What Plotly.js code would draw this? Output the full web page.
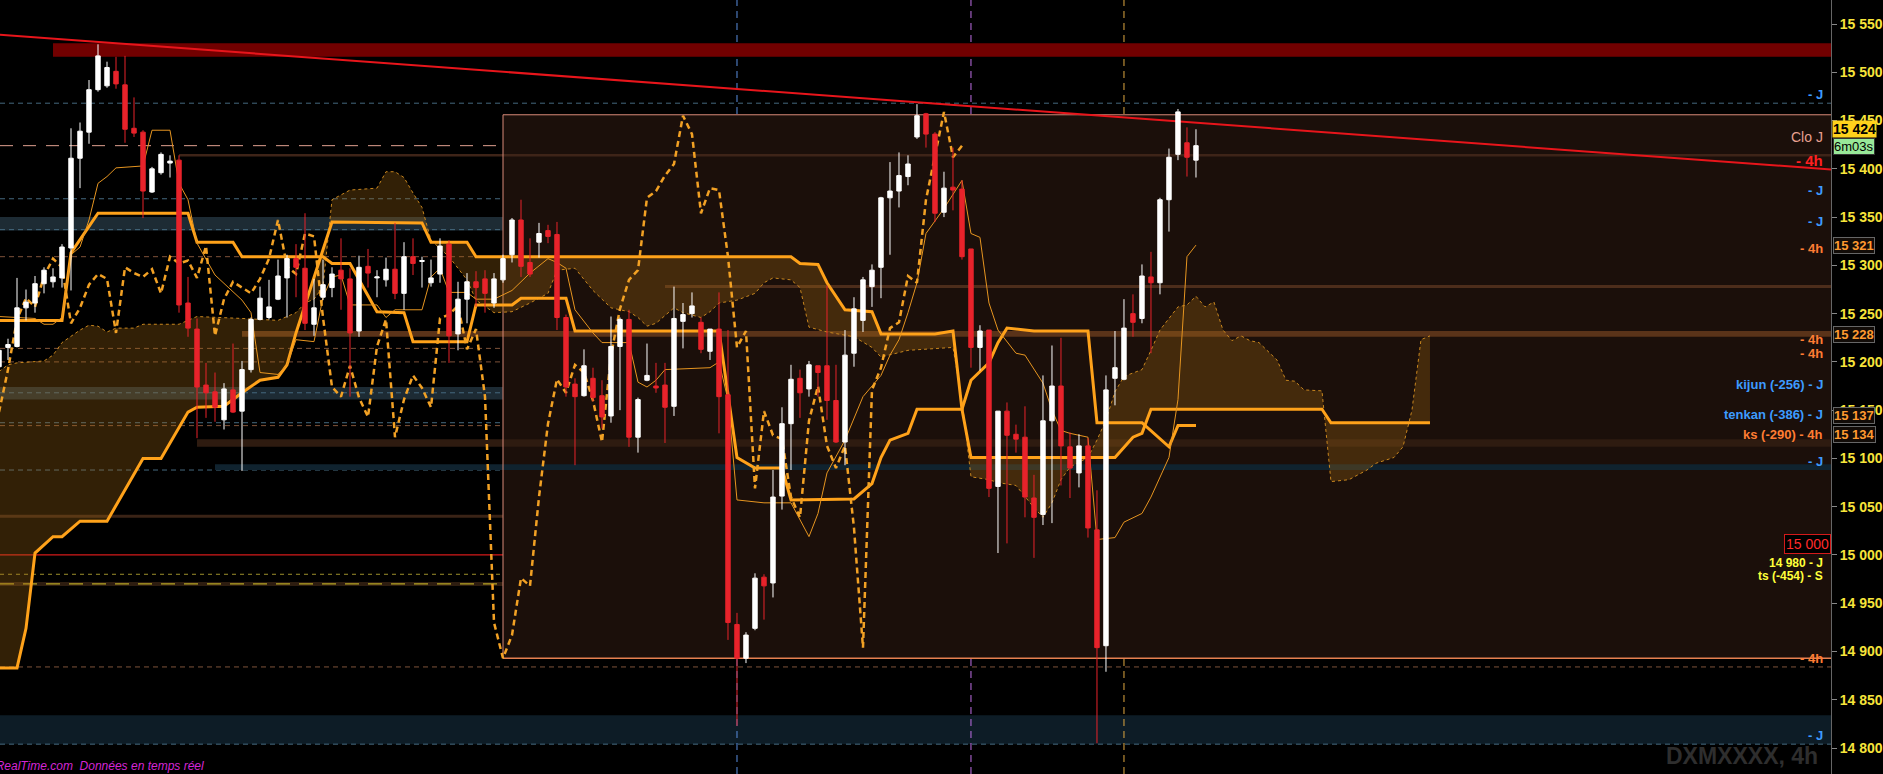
<!DOCTYPE html>
<html><head><meta charset="utf-8">
<script src="https://cdn.plot.ly/plotly-3.0.1.min.js"></script>
<style>html,body{margin:0;padding:0;background:#000;overflow:hidden}#chart{width:1883px;height:774px}</style>
</head><body><div id="chart"></div>
<script>
// ---------- Candles (4h bars, index 0..133) ----------
const openP  = [15195,15215,15216,15256,15261,15281,15283,15287,15318,15411,15438,15482,15486,15501,15487,15442,15438,15376,15396,15406,
15409,15261,15234,15176,15169,15140,15171,15149,15192,15244,15246,15265,15287,15307,15297,15239,15267,15277,15295,15286,
15232,15299,15287,15285,15296,15271,15309,15304,15282,15291,15322,15229,15265,15283,15286,15261,15285,15311,15347,15303,
15324,15336,15332,15246,15177,15165,15183,15165,15144,15216,15244,15122,15181,15175,15176,15154,15242,15250,15241,15211,
15234,15166,14928,14893,14924,14977,14971,15061,15136,15183,15172,15196,15196,15160,15117,15209,15243,15278,15298,15370,
15377,15392,15433,15457,15436,15355,15381,15379,15317,15215,15233,15071,15149,15125,15122,15059,15042,15139,15175,15112,
15085,15113,15026,14906,15183,15182,15250,15245,15288,15282,15368,15415,15427,15409];
const highP  = [15217,15224,15287,15275,15289,15298,15297,15322,15442,15448,15492,15529,15511,15516,15517,15474,15440,15402,15417,15414,
15414,15288,15245,15199,15189,15178,15219,15201,15246,15278,15285,15306,15311,15322,15354,15286,15306,15298,15328,15297,
15310,15317,15295,15308,15344,15324,15328,15309,15306,15328,15326,15283,15292,15294,15295,15292,15311,15349,15368,15328,
15344,15342,15345,15249,15183,15213,15194,15181,15247,15246,15254,15163,15219,15199,15199,15278,15261,15272,15246,15234,
15272,15233,14940,14920,14981,14980,15088,15153,15197,15192,15201,15196,15279,15197,15233,15267,15288,15301,15371,15407,
15417,15414,15467,15458,15438,15397,15422,15388,15317,15238,15233,15149,15158,15135,15154,15083,15186,15217,15225,15127,
15125,15121,15067,15186,15232,15265,15270,15301,15314,15370,15421,15462,15443,15441];
const lowP   = [15190,15202,15215,15243,15251,15271,15277,15277,15274,15380,15426,15480,15484,15483,15427,15433,15349,15375,15394,15391,
15251,15226,15121,15142,15138,15130,15147,15087,15189,15243,15244,15264,15246,15267,15233,15227,15264,15267,15254,15164,
15226,15277,15267,15278,15265,15254,15290,15277,15278,15282,15199,15212,15240,15257,15251,15256,15282,15303,15288,15288,
15308,15323,15233,15164,15093,15164,15159,15131,15137,15150,15112,15106,15180,15168,15116,15144,15214,15246,15209,15202,
15126,14912,14823,14888,14922,14933,14956,15047,15088,15142,15164,15164,15140,15116,15093,15195,15231,15257,15266,15311,
15360,15383,15431,15422,15345,15350,15357,15306,15194,15191,15060,15002,15012,15106,15039,14997,15031,15033,15072,15059,
15070,15018,14805,14879,15155,15181,15226,15240,15209,15270,15335,15409,15392,15391];
const closeP = [15212,15218,15256,15262,15281,15295,15288,15319,15411,15439,15482,15517,15505,15488,15441,15437,15377,15400,15415,15408,
15259,15235,15174,15168,15153,15172,15148,15192,15244,15266,15257,15289,15307,15298,15240,15256,15280,15291,15286,15230,
15298,15292,15288,15296,15271,15309,15302,15305,15287,15320,15227,15265,15283,15277,15271,15286,15307,15347,15299,15291,
15333,15330,15246,15174,15164,15196,15163,15143,15216,15244,15122,15161,15186,15173,15153,15245,15249,15258,15213,15234,
15164,14930,14893,14917,14976,14968,15060,15136,15182,15168,15197,15189,15160,15117,15207,15255,15285,15295,15370,15377,
15393,15405,15455,15436,15354,15380,15378,15309,15215,15232,15069,15149,15124,15120,15060,15039,15139,15175,15113,15090,
15113,15028,14904,15171,15194,15235,15241,15289,15282,15368,15412,15459,15412,15424];
const barIdx = openP.map((_, i) => i);

// ---------- Ichimoku lines (bar index, price) ----------
const tenkanX = [0,4,5,6,7,8,9,10,11,12,13,16,17,19,20,21,22,24,27,28,29,31,32,33,35,36,37,38,39,42,43,44,47,48,49,50,52,53,55,57,59,61,62,63,64,66,67,70,71,72,73,74,79,80,81,82,85,88,90,91,92,94,96,98,99,100,101,102,103,105,107,108,109,110,111,113,114,116,117,118,119,121,122,124,125,127,128,130,131,132,133];
const tenkanY = [15247,15245,15239,15239,15246,15311,15319,15347,15385,15392,15401,15403,15440,15440,15385,15368,15323,15290,15264,15251,15189,15187,15197,15223,15221,15267,15288,15290,15259,15259,15246,15254,15254,15288,15297,15272,15272,15265,15265,15274,15292,15307,15303,15297,15254,15230,15220,15220,15179,15174,15181,15192,15194,15200,15161,15057,15054,15054,15019,15043,15085,15119,15164,15186,15207,15223,15251,15282,15333,15359,15388,15333,15329,15261,15233,15209,15207,15178,15150,15129,15126,15122,15016,15018,15034,15043,15060,15101,15161,15309,15321];
const kijunX = [0,7,8,11,21,22,26,27,36,37,39,42,45,46,52,53,57,58,63,64,80,82,84,87,88,95,97,98,99,101,102,107,108,110,111,112,115,121,122,127,130,131,133];
const kijunY = [15243,15243,15313,15354,15354,15324,15324,15309,15309,15302,15302,15252,15251,15221,15221,15259,15259,15266,15266,15232,15232,15101,15090,15090,15057,15058,15074,15101,15119,15126,15151,15151,15181,15199,15220,15235,15232,15232,15137,15137,15112,15134,15134];
const ssbX = [0,2,3,4,6,7,9,12,16,18,21,22,25,27,29,31,32,33,37,47,48,52,53,88,89,91,92,94,97,98,104,106,107,108,124,126,127,128,147,148,159];
const ssbY = [14883,14883,14924,15002,15019,15019,15035,15035,15100,15100,15148,15153,15154,15168,15181,15184,15197,15230,15345,15344,15324,15324,15309,15309,15302,15301,15282,15254,15252,15229,15229,15232,15151,15101,15101,15122,15126,15151,15151,15137,15137];
const ssaX = [0,1,2,5,6,7,9,10,11,12,13,15,16,20,21,22,27,31,33,34,35,36,37,39,42,43,44,45,46,47,48,50,52,53,55,57,59,61,62,64,66,68,70,71,72,73,75,76,78,79,80,82,84,85,86,88,89,90,92,95,97,98,101,106,107,108,110,111,113,114,115,116,117,118,119,121,122,123,124,125,127,128,129,130,131,132,133,134,135,136,137,138,139,140,142,143,144,145,147,148,150,152,153,155,156,157,158,159];
const ssaY = [15190,15197,15199,15201,15207,15220,15233,15238,15237,15231,15235,15235,15239,15239,15243,15247,15245,15243,15251,15261,15265,15278,15368,15378,15380,15397,15397,15391,15375,15360,15326,15309,15285,15264,15251,15252,15261,15271,15295,15297,15274,15256,15252,15246,15237,15240,15256,15251,15246,15252,15261,15264,15271,15282,15287,15285,15277,15236,15231,15226,15215,15205,15212,15215,15160,15081,15078,15075,15072,15060,15049,15039,15054,15078,15091,15101,15119,15140,15169,15185,15192,15212,15233,15245,15257,15259,15268,15257,15262,15233,15222,15227,15222,15220,15202,15181,15180,15171,15170,15076,15078,15088,15095,15101,15112,15150,15223,15227];
const CHIKOU_SHIFT = 26;
const chikouX = barIdx.slice(0, barIdx.length - CHIKOU_SHIFT);
const chikouY = closeP.slice(CHIKOU_SHIFT);

// ---------- Drawing objects ----------
const trendX = [0, 204];
const trendY = [15539, 15399];
const resistZone = [15516, 15530];
const resistZoneStart = 6;
const boxTop = 15456, boxBottom = 14893, boxStart = 56;
const levelsJ  = [15468, 15369, 15337, 15168, 15137, 15088, 14804];
const levels4h = [15309, 15214, 15200, 15134, 14884];
const closeJ = 15424;
const roundLevel = 15000;
const level14980 = 14980;
const levelTs = 14970;
const slateBands = [[15336, 15350], [15161, 15174], [14804, 14834]];
const slateBandPartial = [15088, 15094], slateBandPartialStart = 24;
const brownBands = [[15226, 15232], [15112, 15120]];
const brownBandStarts = [27, 22];
const brownLines = [15414, 15278, 15040, 14970];
const brownLineStarts = [20, 74, null, null];
const vLineBars = [82, 108, 125];

const tickVals = [14800,14850,14900,14950,15000,15050,15100,15150,15200,15250,15300,15350,15400,15450,15500,15550];
const tickText = ['14 800','14 850','14 900','14 950','15 000','15 050','15 100','15 150','15 200','15 250','15 300','15 350','15 400','15 450','15 500','15 550'];

const labelPrices = [15468, 15424, 15399, 15369, 15337, 15309, 15214, 15200, 15168, 15137, 15134, 15088, 14980, 14970, 14884, 14804];
const labelTexts  = ['- J','Clo J','- 4h','- J','- J','- 4h','- 4h','- 4h','kijun (-256) - J','tenkan (-386) - J','ks (-290) - 4h','- J','14 980 - J','ts (-454) - S','- 4h','- J'];
const labelKinds  = ['J','clo','trend','J','J','4h','4h','4h','J','J','4h','J','yel','yel','4h','J'];

const tagPrices = [15321, 15228, 15137, 15134];
const tagTexts  = ['15 321','15 228','15 137','15 134'];
const lastPrice = 15424, lastPriceText = '15 424', timerText = '6m03s';

// ---------- Build ----------
const X_RANGE = [0.11, 203.56];
const Y_RANGE = [14773.1, 15574.9];
const XR = X_RANGE[1] + 10;
const FONT = 'Liberation Sans, Arial, sans-serif';

const shapes = [];
function rect(x0, x1, y0, y1, color, xref) {
  shapes.push({type:'rect', xref: xref || 'x', yref:'y', x0, x1, y0, y1, fillcolor: color, line:{width:0}, layer:'below'});
}
function hline(y, color, width, dash, x0) {
  const full = (x0 === null || x0 === undefined);
  shapes.push({type:'line', xref: full ? 'paper' : 'x', yref:'y', x0: full ? 0 : x0, x1: full ? 1 : XR, y0: y, y1: y,
    line:{color, width, dash: dash || 'solid'}, layer:'below'});
}
rect(boxStart, XR, boxBottom, boxTop, '#1b0f0a');
rect(resistZoneStart, XR, resistZone[0], resistZone[1], '#720000');
slateBands.forEach((b, k) => rect(0, 1, b[0], b[1], k === 2 ? '#0d1c26' : '#1d2b34', 'paper'));
rect(slateBandPartialStart, XR, slateBandPartial[0], slateBandPartial[1], '#10232f');
brownBands.forEach((b, k) => rect(brownBandStarts[k], XR, b[0], b[1], k === 0 ? '#5a3319' : '#2e1b10'));
const brownW = [2.5, 3, 3, 4], brownC = ['#3e2418', '#4d2d1b', '#3a2316', '#2e1d10'];
brownLines.forEach((y, k) => hline(y, brownC[k], brownW[k], 'solid', brownLineStarts[k]));
levelsJ.forEach(y => hline(y, '#45697f', 1, '5px,4px'));
levels4h.forEach(y => hline(y, '#7e5239', 1, '5px,4px'));
hline(closeJ, '#e0a090', 1, '13px,10px');
hline(roundLevel, '#d41a1a', 1.2, 'solid');
hline(level14980, '#9c8f2c', 1, '4px,4px');
hline(levelTs, '#b8a624', 1.3, '14px,9px');
hline(boxTop, '#d98a78', 1, 'solid', boxStart);
hline(boxBottom, '#e58050', 1.5, 'solid', boxStart);
shapes.push({type:'line', xref:'x', yref:'y', x0: boxStart, x1: boxStart, y0: boxBottom, y1: boxTop, line:{color:'#d98a78', width:1}, layer:'below'});
const vCols = ['#5a8fe0', '#c070e8', '#e0a840'];
vLineBars.forEach((x, k) => shapes.push({type:'line', xref:'x', yref:'paper', x0:x, x1:x, y0:0, y1:1, line:{color:vCols[k], width:1, dash:'7px,5px'}, layer:'below'}));

const traces = [
  {type:'scatter', mode:'lines', x: ssbX, y: ssbY, xaxis:'x', yaxis:'y', line:{width:0, color:'rgba(0,0,0,0)'}, hoverinfo:'skip', showlegend:false},
  {type:'scatter', mode:'lines', x: ssaX, y: ssaY, xaxis:'x', yaxis:'y', fill:'tonexty', fillcolor:'rgba(165,105,20,0.30)',
   line:{color:'#c8861e', width:1, dash:'3px,3px'}, hoverinfo:'skip', showlegend:false},
  {type:'scatter', mode:'lines', x: ssbX, y: ssbY, xaxis:'x', yaxis:'y', line:{color:'#ffa21a', width:3}, hoverinfo:'skip', showlegend:false},
  {type:'scatter', mode:'lines', x: kijunX, y: kijunY, xaxis:'x', yaxis:'y', line:{color:'#ffa21a', width:3}, hoverinfo:'skip', showlegend:false},
  {type:'scatter', mode:'lines', x: tenkanX, y: tenkanY, xaxis:'x', yaxis:'y', line:{color:'#e69520', width:1}, hoverinfo:'skip', showlegend:false},
  {type:'scatter', mode:'lines', x: chikouX, y: chikouY, xaxis:'x', yaxis:'y', line:{color:'#f2a124', width:2.5, dash:'6px,4px'}, hoverinfo:'skip', showlegend:false},
  {type:'scatter', mode:'lines', x: trendX, y: trendY, xaxis:'x', yaxis:'y', line:{color:'#e8151b', width:2}, hoverinfo:'skip', showlegend:false},
  {type:'candlestick', x: barIdx, open: openP, high: highP, low: lowP, close: closeP, xaxis:'x2', yaxis:'y',
   increasing:{line:{color:'#ffffff', width:1}, fillcolor:'#ffffff'},
   decreasing:{line:{color:'#e8232b', width:1}, fillcolor:'#e8232b'},
   whiskerwidth:0, hoverinfo:'skip', showlegend:false}
];

const kindStyle = {
  J:    {color:'#3d9bff', size:13, weight:'bold'},
  '4h': {color:'#ff7d33', size:13, weight:'bold'},
  clo:  {color:'#e8a090', size:14, weight:'normal'},
  trend:{color:'#ff2020', size:15, weight:'bold'},
  yel:  {color:'#ffff3a', size:12, weight:'bold'}
};
const annotations = [];
labelPrices.forEach((p, k) => {
  const s = kindStyle[labelKinds[k]];
  const t = labelTexts[k];
  const below = t.startsWith('ks');
  const shift = t.startsWith('14 980') ? 3 : 0;
  annotations.push({xref:'paper', yref:'y', x:0.9962, y:p, yshift: shift, xanchor:'right', yanchor: below ? 'top' : 'bottom', text:t, showarrow:false,
    font:{family:FONT, size:s.size, color:s.color, weight:s.weight}, borderpad:0});
});
annotations.push({xref:'paper', yref:'y', x:1, y:roundLevel, yshift:1, xanchor:'right', yanchor:'bottom', text:'15 000', showarrow:false,
  font:{family:FONT, size:14, color:'#ff2a2a'}, bgcolor:'#000', bordercolor:'#d41a1a', borderwidth:1, borderpad:1});
const tagShift = [0, 0, 7, -9];
tagPrices.forEach((p, k) => annotations.push({xref:'paper', yref:'y', x:1, xshift:2, y:p, yshift: tagShift[k], xanchor:'left', yanchor:'middle',
  text: tagTexts[k], showarrow:false, font:{family:FONT, size:13, color:'#ff9a30', weight:'bold'}, bgcolor:'#120c08', bordercolor:'#666', borderwidth:1, borderpad:0}));
annotations.push({xref:'paper', yref:'y', x:1, xshift:1, y:lastPrice, yshift:17, xanchor:'left', yanchor:'middle', text:lastPriceText, showarrow:false,
  font:{family:FONT, size:14, color:'#000', weight:'bold'}, bgcolor:'#ffd21c', borderpad:0});
annotations.push({xref:'paper', yref:'y', x:1, xshift:2, y:lastPrice, yshift:-1, xanchor:'left', yanchor:'middle', text:timerText, showarrow:false,
  font:{family:FONT, size:13, color:'#000'}, bgcolor:'#98e898', bordercolor:'#333', borderwidth:1, borderpad:0});
annotations.push({xref:'paper', yref:'paper', x:0.994, y:0, yshift:3, xanchor:'right', yanchor:'bottom', text:'DXMXXXX, 4h', showarrow:false,
  font:{family:FONT, size:23, color:'#2e2e2e', weight:'bold'}});
annotations.push({xref:'paper', yref:'paper', x:-24/1831, y:0, xanchor:'left', yanchor:'bottom', text:'<i>ProRealTime.com  Données en temps réel</i>', showarrow:false,
  font:{family:FONT, size:12, color:'#d426d4'}, borderpad:0});

const layout = {
  width:1883, height:774,
  paper_bgcolor:'#000', plot_bgcolor:'#000',
  margin:{l:0, r:52, t:0, b:0},
  showlegend:false,
  xaxis:{range:X_RANGE, visible:false, fixedrange:true},
  xaxis2:{range:X_RANGE, visible:false, overlaying:'x', fixedrange:true, rangeslider:{visible:false}},
  yaxis:{range:Y_RANGE, side:'right', showgrid:false, zeroline:false, fixedrange:true,
    tickvals:tickVals, ticktext:tickText, ticks:'outside', ticklen:5, tickcolor:'#888',
    showline:true, linecolor:'#666', linewidth:1,
    tickfont:{family:FONT, size:14, color:'#f7e43a', weight:'bold'}},
  shapes, annotations,
  hovermode:false
};
Plotly.newPlot('chart', traces, layout, {staticPlot:true, displayModeBar:false});
</script>
</body></html>
